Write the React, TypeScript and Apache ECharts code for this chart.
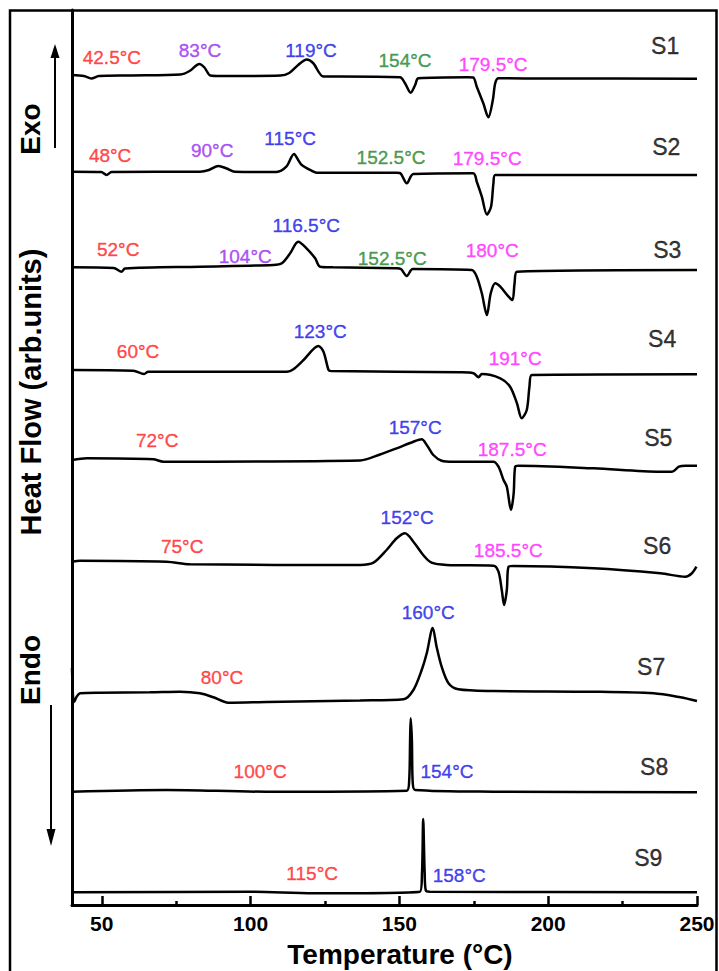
import React, { useEffect, useRef } from "react";
import * as echarts from "echarts";

// DSC curves: [temperature (°C), heat flow (arb. units, stacked)]
const S1: number[][] = [
  [40, 830], [44, 829], [46.5, 826.5], [49, 829], [60, 829.5], [76.5, 830.5], [79.5, 834],
  [82.8, 841], [84.5, 837.5], [86.5, 829.5], [90, 829], [110, 829.5], [113, 832], [116, 840],
  [118.9, 845.5], [121, 842], [124.5, 828.5], [130, 828.5], [150.2, 827.7], [151.9, 821.7],
  [153.8, 812.3], [155.3, 820], [156.4, 826.7], [173, 827.7], [174.8, 827.5], [176, 818.3],
  [178.2, 801.7], [179.9, 787.7], [181.4, 805], [182.2, 821.7], [183.3, 826.7], [200, 826.5],
  [250, 826.3],
];
const S2: number[][] = [
  [40, 733.3], [49.8, 733], [51.6, 730], [53.3, 733], [83, 733.3], [86, 735], [89.2, 739],
  [92, 736.5], [94.7, 733.3], [108.7, 733], [112, 738.3], [114.6, 751], [116, 745], [117.2, 740],
  [120.5, 734.3], [122.2, 732.3], [149, 732.3], [150.2, 732], [152.5, 721.7], [154.7, 731],
  [174.8, 731.7], [176, 723.3], [177.7, 708.3], [179.4, 690.5], [180.8, 698.3], [181.6, 721.7],
  [182.2, 730], [250, 730],
];
const S3: number[][] = [
  [40, 637.7], [54, 637], [56.7, 633.3], [57.8, 636.5], [83, 638.3], [107.6, 640], [110.5, 641.7],
  [113.3, 651.7], [116, 663.3], [118.8, 656.7], [121.7, 646.7], [123.4, 638.3], [127.7, 637.7],
  [149, 636.7], [150.5, 636], [152.5, 629], [154.5, 636], [174.3, 635], [176, 628.3],
  [177.7, 611.7], [179.4, 590], [180.7, 611.7], [182.2, 621.7], [183.9, 618.3], [186.7, 608.3],
  [188, 605], [188.7, 621.7], [189.5, 633.3], [250, 635],
];
const S4: number[][] = [
  [40, 535], [60.6, 534.3], [64.2, 531], [65.6, 533.3], [112.2, 533.3], [114.4, 535.7],
  [117.8, 545], [122.8, 559], [124.5, 553.3], [126.2, 535], [127, 534], [170.4, 532.7],
  [174.9, 531.7], [176.6, 527.7], [177.7, 531], [183.9, 526.7], [187.2, 518.3], [189.5, 501.7],
  [191.1, 486.7], [192.8, 495], [193.7, 518.3], [194.5, 530], [250, 530.7],
];
const S5: number[][] = [
  [40, 445], [45, 446.7], [67.3, 445.7], [70.7, 443.3], [136.8, 444.5], [143.5, 450.5],
  [149.1, 456.7], [154.7, 463.3], [157.5, 465.7], [159.2, 460], [161.4, 450], [164.2, 444.3],
  [168.1, 443.3], [181.6, 443.3], [183.3, 438.3], [185, 425], [186.1, 418.3], [187.5, 395],
  [188.4, 411.7], [188.9, 438.3], [190, 439.3], [215.3, 436.7], [237.7, 433.3], [241.6, 433.3],
  [243.9, 438.3], [246.1, 439.3], [250, 439.3],
];
const S6: number[][] = [
  [40, 343.3], [42.7, 344.3], [71.8, 343.3], [79.6, 340.7], [136.8, 340], [141.3, 342.3],
  [145.7, 355], [149.1, 366.7], [151.9, 371.7], [154.7, 363.3], [158, 350], [160.8, 342.3],
  [165.9, 340], [181.6, 339.3], [183.3, 333.3], [184.4, 315], [185.2, 300], [186.1, 315],
  [186.7, 338.3], [188.4, 339], [215.3, 336.7], [237.7, 331.7], [246.1, 328.3], [248.3, 331.7],
  [249.8, 338.3],
];
const S7: number[][] = [
  [40, 237], [40.4, 205], [40.7, 203], [41.5, 208], [42.7, 211.7], [49.4, 212.3], [66.2, 212.7],
  [76.3, 213.3], [83, 211.7], [87.5, 207.7], [92.5, 202.3], [105.4, 203], [136.8, 204.5],
  [151.4, 205.7], [154.7, 215], [157.5, 235], [159.2, 251.7], [161.2, 277], [162.5, 258.3],
  [164.2, 238.3], [166.5, 221.7], [169.8, 215.7], [181.6, 214], [215.3, 213.3], [235.4, 211.7],
  [244.4, 207.7], [250, 204],
];
const S8: number[][] = [
  [40, 113.3], [71.8, 115], [105.4, 113.3], [152.5, 114.3], [153.3, 125], [153.6, 165],
  [153.8, 186.7], [154.2, 165], [154.5, 121.7], [155.3, 115], [181.6, 113.3], [250, 112.7],
];
const S9: number[][] = [
  [40, 12.7], [100, 13.3], [121.1, 11.7], [156.9, 13.3], [157.6, 31.7], [158, 86],
  [158.5, 31.7], [158.9, 14.3], [160.3, 13.3], [250, 12.7],
];

const curves = [S1, S2, S3, S4, S5, S6, S7, S8, S9];
const sampleNames = ["S1", "S2", "S3", "S4", "S5", "S6", "S7", "S8", "S9"];
const sampleLabelPos: number[][] = [
  [239.3, 859], [239.7, 758], [240, 655], [238.3, 566], [237, 467], [236.6, 359], [234.6, 238],
  [235.6, 138], [233.6, 47],
];

const majorTicks = [50, 100, 150, 200, 250];
const minorTicks = [75, 125, 175, 225];

const RED = "#ff1f1f";
const PURPLE = "#9a2cf0";
const BLUE = "#1818e8";
const GREEN = "#23862a";
const MAGENTA = "#ff1fff";

// [text, temperature, heat flow, color]
const peakLabels: [string, number, number, string][] = [
  ["42.5°C", 53.4, 848, RED], ["83°C", 83.0, 855, PURPLE], ["119°C", 120.3, 855, BLUE],
  ["154°C", 151.9, 845, GREEN], ["179.5°C", 181.5, 841, MAGENTA],
  ["48°C", 52.8, 750, RED], ["90°C", 87.1, 755, PURPLE], ["115°C", 113.3, 767, BLUE],
  ["152.5°C", 147.2, 748, GREEN], ["179.5°C", 179.5, 747, MAGENTA],
  ["52°C", 55.5, 656, RED], ["104°C", 98.2, 649, PURPLE], ["116.5°C", 118.7, 680, BLUE],
  ["152.5°C", 147.6, 647, GREEN], ["180°C", 181.2, 655, MAGENTA],
  ["60°C", 62.2, 554, RED], ["123°C", 123.4, 574, BLUE], ["191°C", 188.9, 547, MAGENTA],
  ["72°C", 68.6, 465, RED], ["157°C", 155.3, 478, BLUE], ["187.5°C", 187.9, 456, MAGENTA],
  ["75°C", 77, 359, RED], ["152°C", 152.6, 388, BLUE], ["185.5°C", 186.6, 355, MAGENTA],
  ["80°C", 90.4, 228, RED], ["160°C", 159.7, 293, BLUE],
  ["100°C", 103.2, 134, RED], ["154°C", 166, 134, BLUE],
  ["115°C", 120.7, 32, RED], ["158°C", 170.1, 30, BLUE],
];

const FONT = "'Liberation Sans', Arial, Helvetica, sans-serif";

export default function App() {
  const ref = useRef<HTMLDivElement>(null);
  useEffect(() => {
    if (!ref.current) return;
    const chart = echarts.init(ref.current, undefined, { renderer: "svg" });
    const lineSeries = curves.map((c, i) => ({
      name: sampleNames[i],
      type: "line",
      data: c,
      showSymbol: false,
      symbol: "none",
      smooth: 0.3,
      lineStyle: { color: "#000", width: 2.5 },
      xAxisIndex: 0,
      yAxisIndex: 0,
      z: 3,
    }));
    const annotationSeries = {
      type: "scatter",
      symbolSize: 0,
      silent: true,
      z: 5,
      itemStyle: { color: "transparent" },
      data: [
        ...peakLabels.map(([t, x, y, color]) => ({
          value: [x, y],
          label: {
            show: true,
            formatter: t,
            color,
            fontSize: 19,
            textBorderColor: color,
            textBorderWidth: 0.4,
          },
        })),
        ...sampleNames.map((n, i) => ({
          value: sampleLabelPos[i],
          label: {
            show: true,
            formatter: n,
            color: "#000",
            fontSize: 23,
            textBorderColor: "#000",
            textBorderWidth: 0.4,
          },
        })),
      ],
      label: {
        show: true,
        position: "inside",
        align: "center",
        verticalAlign: "middle",
        fontFamily: FONT,
        textShadowBlur: 0,
      },
    };
    chart.setOption({
      animation: false,
      backgroundColor: "#fff",
      grid: { left: 72, right: 22, top: 10, bottom: 66 },
      xAxis: [
        {
          type: "value",
          min: 40,
          max: 250,
          axisLine: { show: true, lineStyle: { color: "#000", width: 3 } },
          axisTick: {
            show: true,
            inside: true,
            length: 9,
            customValues: majorTicks,
            lineStyle: { color: "#000", width: 2.5 },
          },
          axisLabel: {
            show: true,
            customValues: majorTicks,
            margin: 8,
            fontSize: 21,
            fontWeight: "bold",
            color: "#000",
            fontFamily: FONT,
          },
          splitLine: { show: false },
        },
        {
          type: "value",
          min: 40,
          max: 250,
          position: "bottom",
          axisLine: { show: false },
          axisTick: {
            show: true,
            inside: true,
            length: 4,
            customValues: minorTicks,
            lineStyle: { color: "#000", width: 2.5 },
          },
          axisLabel: { show: false },
          splitLine: { show: false },
        },
      ],
      yAxis: {
        type: "value",
        min: 0,
        max: 895,
        axisLine: { show: true, lineStyle: { color: "#000", width: 3 } },
        axisTick: { show: false },
        axisLabel: { show: false },
        splitLine: { show: false },
      },
      graphic: [
        {
          type: "rect",
          shape: { x: 10, y: 10.5, width: 706.5, height: 990 },
          style: { fill: "none", stroke: "#000", lineWidth: 2.5 },
          silent: true,
        },
        {
          type: "text",
          x: 31,
          y: 392,
          rotation: Math.PI / 2,
          style: {
            text: "Heat Flow (arb.units)",
            font: `bold 29px ${FONT}`,
            fill: "#000",
            align: "center",
            verticalAlign: "middle",
          },
        },
        {
          type: "text",
          x: 30,
          y: 129,
          rotation: Math.PI / 2,
          style: {
            text: "Exo",
            font: `bold 28px ${FONT}`,
            fill: "#000",
            align: "center",
            verticalAlign: "middle",
          },
        },
        {
          type: "text",
          x: 30,
          y: 670,
          rotation: Math.PI / 2,
          style: {
            text: "Endo",
            font: `bold 28px ${FONT}`,
            fill: "#000",
            align: "center",
            verticalAlign: "middle",
          },
        },
        {
          type: "line",
          shape: { x1: 55, y1: 148, x2: 55, y2: 55 },
          style: { stroke: "#000", lineWidth: 2 },
        },
        {
          type: "polygon",
          shape: { points: [[55, 44], [50.5, 58], [59.5, 58]] },
          style: { fill: "#000" },
        },
        {
          type: "line",
          shape: { x1: 51, y1: 705, x2: 51, y2: 832 },
          style: { stroke: "#000", lineWidth: 2 },
        },
        {
          type: "polygon",
          shape: { points: [[51, 846], [46.5, 829], [55.5, 829]] },
          style: { fill: "#000" },
        },
        {
          type: "text",
          x: 400,
          y: 954,
          style: {
            text: "Temperature (°C)",
            font: `bold 28px ${FONT}`,
            fill: "#000",
            align: "center",
            verticalAlign: "middle",
          },
        },
      ],
      series: [...lineSeries, annotationSeries],
    });
    return () => chart.dispose();
  }, []);
  return (
    <div
      ref={ref}
      style={{ position: "fixed", left: 0, top: 0, width: 719, height: 971 }}
    />
  );
}
